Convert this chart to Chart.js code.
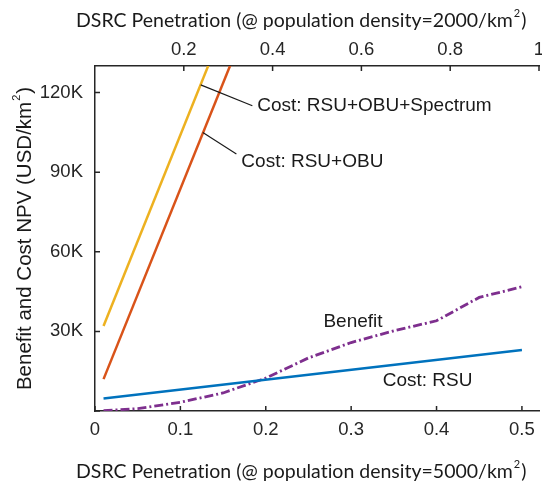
<!DOCTYPE html>
<html>
<head>
<meta charset="utf-8">
<script src="https://cdn.jsdelivr.net/npm/chart.js@4/dist/chart.umd.min.js"></script>
<style>
  html, body { margin: 0; padding: 0; background: #fff; }
  canvas { display: block; }
</style>
</head>
<body>
<canvas id="npv" width="542" height="485"></canvas>
<script>
// Penetration rate at 5000 persons/km² (bottom axis)
const penetration = [0.01, 0.05, 0.1, 0.15, 0.2, 0.25, 0.3, 0.35, 0.4, 0.45, 0.5];
// Benefit NPV (USD/km²)
const benefit = [100, 900, 3300, 6800, 12400, 20000, 25800, 30200, 34000, 42800, 46800];

// Cost lines are straight, given by their end values
const costPenetration = [0.01, 0.5];
const costRSU = [4700, 23000];
const costRSUOBUPenetration = [0.01, 0.2];
const costRSUOBU = [12000, 163400];
const costRSUOBUSpectrum = [32000, 184000];

// Axis ticks
const yTicks = [0, 30000, 60000, 90000, 120000];
const xTicks = [0, 0.1, 0.2, 0.3, 0.4, 0.5];
const x2Ticks = [0.2, 0.4, 0.6, 0.8, 1];

const pts = (xs, ys) => xs.map((x, i) => ({ x: x, y: ys[i] }));

const AXIS = '#262626';
const TEXT = '#1a1a1a';
const SANS = '"Liberation Sans", Arial, Helvetica, sans-serif';
const TITLE_FONT = 'Lato, "Open Sans", sans-serif';

// Labels with leader lines, in data coordinates
const callouts = [
  { text: 'Cost: RSU+OBU+Spectrum', from: [0.1238, 122900], to: [0.1843, 115000], at: [0.190, 115000] },
  { text: 'Cost: RSU+OBU', from: [0.1263, 104900], to: [0.1656, 96800], at: [0.1714, 93900] },
  { text: 'Benefit', at: [0.2675, 33600] },
  { text: 'Cost: RSU', at: [0.3370, 11300] }
];

// Draws a string with a raised 2 after "/km"
function drawSupTitle(ctx, before, after, x, y, size, family) {
  ctx.font = size + 'px ' + family;
  ctx.textBaseline = 'alphabetic';
  ctx.textAlign = 'left';
  ctx.fillText(before, x, y);
  let w = ctx.measureText(before).width;
  ctx.font = Math.round(size * 0.55) + 'px ' + family;
  ctx.fillText('2', x + w + 1, y - size * 0.52);
  const w2 = ctx.measureText('2').width;
  ctx.font = size + 'px ' + family;
  ctx.fillText(after, x + w + w2 + 2, y);
  return w + w2 + 2 + ctx.measureText(after).width;
}

const decorations = {
  id: 'decorations',
  afterDraw(chart) {
    const ctx = chart.ctx;
    const xs = chart.scales.x, ys = chart.scales.y, x2 = chart.scales.x2;
    const a = chart.chartArea;
    ctx.save();
    // inward tick marks
    ctx.strokeStyle = AXIS;
    ctx.lineWidth = 1.5;
    ctx.beginPath();
    xs.ticks.forEach(t => { const p = xs.getPixelForValue(t.value); ctx.moveTo(p, a.bottom); ctx.lineTo(p, a.bottom - 5); });
    x2.ticks.forEach(t => { const p = x2.getPixelForValue(t.value); ctx.moveTo(p, a.top); ctx.lineTo(p, a.top + 5); });
    ys.ticks.forEach(t => { const p = ys.getPixelForValue(t.value); ctx.moveTo(a.left, p); ctx.lineTo(a.left + 5, p); });
    ctx.stroke();

    // callouts
    ctx.fillStyle = TEXT;
    ctx.strokeStyle = TEXT;
    ctx.lineWidth = 1.2;
    ctx.font = '19px ' + SANS;
    ctx.textBaseline = 'middle';
    ctx.textAlign = 'left';
    callouts.forEach(c => {
      if (c.from) {
        ctx.beginPath();
        ctx.moveTo(xs.getPixelForValue(c.from[0]), ys.getPixelForValue(c.from[1]));
        ctx.lineTo(xs.getPixelForValue(c.to[0]), ys.getPixelForValue(c.to[1]));
        ctx.stroke();
      }
      ctx.fillText(c.text, xs.getPixelForValue(c.at[0]), ys.getPixelForValue(c.at[1]));
    });

    // axis titles (plain glyphs, no ligatures)
    ctx.fillStyle = TEXT;
    if ('textRendering' in ctx) ctx.textRendering = 'optimizeSpeed';
    drawSupTitle(ctx, 'DSRC Penetration (@ population density=2000/km', ')', 76, 27, 19.5, TITLE_FONT);
    drawSupTitle(ctx, 'DSRC Penetration (@ population density=5000/km', ')', 76, 478, 19.5, TITLE_FONT);

    ctx.save();
    ctx.translate(31, (a.top + a.bottom) / 2);
    ctx.rotate(-Math.PI / 2);
    const ySize = 20.5;
    ctx.font = ySize + 'px ' + SANS;
    const before = 'Benefit and Cost NPV (USD/km';
    const wb = ctx.measureText(before).width;
    ctx.font = Math.round(ySize * 0.55) + 'px ' + SANS;
    const w2 = ctx.measureText('2').width;
    ctx.font = ySize + 'px ' + SANS;
    const total = wb + w2 + 2 + ctx.measureText(')').width;
    drawSupTitle(ctx, before, ')', -total / 2, 0, ySize, SANS);
    ctx.restore();
    ctx.restore();
  }
};

function pinScale(size, horizontal) {
  return function (scale) {
    if (horizontal) scale.height = size; else scale.width = size;
    scale.paddingLeft = 0; scale.paddingRight = 0;
    scale.paddingTop = 0; scale.paddingBottom = 0;
  };
}

Chart.defaults.font.family = SANS;
Chart.defaults.color = AXIS;

new Chart(document.getElementById('npv'), {
  type: 'line',
  data: {
    datasets: [
      { label: 'Cost: RSU+OBU+Spectrum', data: pts(costRSUOBUPenetration, costRSUOBUSpectrum), borderColor: '#EDB120', borderWidth: 2.5, pointRadius: 0, xAxisID: 'x' },
      { label: 'Cost: RSU+OBU', data: pts(costRSUOBUPenetration, costRSUOBU), borderColor: '#D95319', borderWidth: 2.5, pointRadius: 0, xAxisID: 'x' },
      { label: 'Cost: RSU', data: pts(costPenetration, costRSU), borderColor: '#0072BD', borderWidth: 2.5, pointRadius: 0, xAxisID: 'x' },
      { label: 'Benefit', data: pts(penetration, benefit), borderColor: '#7E2F8E', borderWidth: 2.8, borderDash: [9, 3, 2, 3], pointRadius: 0, xAxisID: 'x' }
    ]
  },
  options: {
    responsive: false,
    animation: false,
    devicePixelRatio: 1,
    layout: { padding: { left: 0, right: 3, top: 0, bottom: 0 } },
    plugins: { legend: { display: false }, tooltip: { enabled: false } },
    scales: {
      x: {
        type: 'linear', position: 'bottom', min: 0, max: 0.52,
        afterFit: pinScale(74, true),
        afterBuildTicks: s => { s.ticks = xTicks.map(v => ({ value: v })); },
        grid: { drawOnChartArea: false, drawTicks: false },
        border: { display: true, color: AXIS, width: 1.5 },
        ticks: { padding: 8, maxRotation: 0, autoSkip: false, font: { size: 18.5 }, callback: v => String(v) }
      },
      x2: {
        type: 'linear', position: 'top', min: 0, max: 1,
        afterFit: pinScale(66, true),
        afterBuildTicks: s => { s.ticks = x2Ticks.map(v => ({ value: v })); },
        grid: { drawOnChartArea: false, drawTicks: false },
        border: { display: true, color: AXIS, width: 1.5 },
        ticks: { padding: 5, maxRotation: 0, autoSkip: false, font: { size: 18.5 }, callback: v => String(v) }
      },
      y: {
        type: 'linear', min: 0, max: 130000,
        afterFit: pinScale(95, false),
        afterBuildTicks: s => { s.ticks = yTicks.map(v => ({ value: v })); },
        grid: { drawOnChartArea: false, drawTicks: false },
        border: { display: true, color: AXIS, width: 1.5 },
        ticks: { padding: 12, font: { size: 18.5 }, callback: v => v === 0 ? '' : (v / 1000) + 'K' }
      }
    }
  },
  plugins: [decorations]
});
</script>
</body>
</html>
